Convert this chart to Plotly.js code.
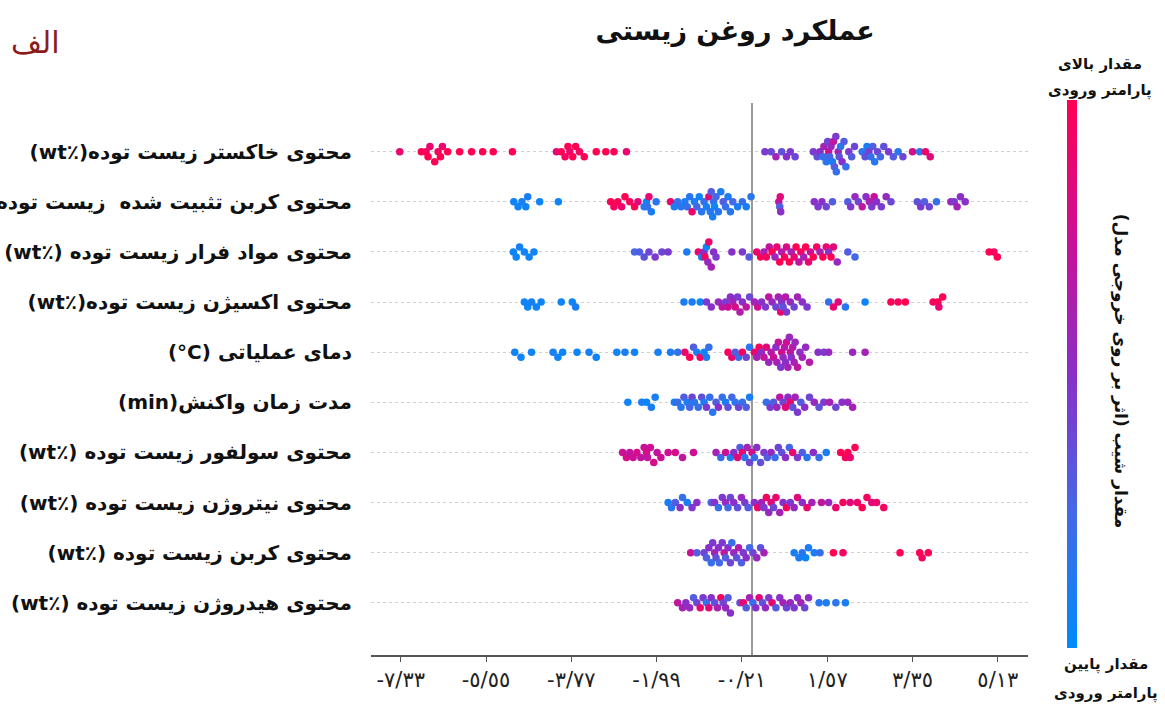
<!DOCTYPE html>
<html>
<head>
<meta charset="utf-8">
<script src="https://cdn.plot.ly/plotly-3.0.1.min.js"></script>
<style>html,body{margin:0;padding:0;background:#fff;}#chart{width:1165px;height:704px;}</style>
</head>
<body>
<div id="chart"></div>
<script>
// Feature labels (top to bottom)
const featureLabels = [
  "محتوی خاکستر زیست توده(٪wt)",
  "محتوی کربن تثبیت شده  زیست توده(٪wt)",
  "محتوی مواد فرار زیست توده (٪wt)",
  "محتوی اکسیژن زیست توده(٪wt)",
  "دمای عملیاتی (C°)",
  "مدت زمان واکنش(min)",
  "محتوی سولفور زیست توده (٪wt)",
  "محتوی نیتروژن زیست توده (٪wt)",
  "محتوی کربن زیست توده (٪wt)",
  "محتوی هیدروژن زیست توده (٪wt)"
];

// X tick values and their Persian labels
const tickValues = [-7.33, -5.55, -3.77, -1.99, -0.21, 1.57, 3.35, 5.13];
const tickLabels = ["-٧/٣٣", "-٥/٥٥", "-٣/٧٧", "-١/٩٩", "-٠/٢١", "١/٥٧", "٣/٣٥", "٥/١٣"];

// SHAP values (x) and normalized feature values (colour, 0 = low, 1 = high) per feature
const ash_shap = [-7.35,-6.9,-6.8,-6.76,-6.72,-6.62,-6.55,-6.5,-6.46,-6.35,-6.1,-5.85,-5.62,-5.4,-5.0,-4.08,-3.98,-3.9,-3.84,-3.8,-3.74,-3.68,-3.6,-3.5,-3.25,-3.05,-2.88,-2.62,
  0.27,0.4,0.5,0.62,0.72,0.8,0.9,1.28,1.36,1.42,1.48,1.5,1.55,1.58,1.6,1.62,1.65,1.68,1.7,1.72,1.75,1.76,1.8,1.82,1.85,1.88,1.92,1.96,2.02,2.08,2.14,2.3,2.36,2.4,2.44,2.48,2.52,2.56,2.62,2.68,2.75,2.85,2.95,3.05,3.15,3.35,3.5,3.62,3.72];
const ash_val = [0.9,1,0.95,1,0.9,1,0.95,1,0.9,1,1,1,1,1,1,0.85,1,0.95,1,0.9,1,1,0.95,1,1,1,1,0.9,
  0.45,0.4,0.6,0.35,0.5,0.45,0.4,0.45,0.35,0.5,0.2,0.6,0.15,0.4,0.75,0.25,0.55,0.1,0.7,0.3,0.45,0.2,0.6,0.35,0.15,0.5,0.3,0.2,0.45,0.3,0.4,0.15,0.35,0.1,0.45,0.2,0.3,0.15,0.4,0.25,0.35,0.45,0.3,0.15,0.4,0.8,0.15,0.9,0.85];

const fixc_shap = [-4.97,-4.88,-4.8,-4.72,-4.68,-4.43,-4.04,
  -2.95,-2.88,-2.8,-2.72,-2.65,-2.55,-2.45,-2.38,
  -2.25,-2.2,-2.18,-2.15,-2.1,-2.0,
  -1.7,-1.62,-1.55,-1.48,
  -1.4,-1.35,-1.3,-1.25,-1.2,-1.15,-1.1,-1.05,-1.0,-0.95,-0.9,-0.87,-0.85,-0.82,-0.8,-0.78,-0.75,-0.7,-0.65,-0.6,-0.55,-0.5,-0.45,-0.4,-0.3,-0.2,-0.12,-0.02,
  0.56,0.58,0.6,0.59,
  1.3,1.38,1.46,1.55,1.68,
  2.0,2.06,2.15,2.22,2.3,2.38,2.45,2.5,2.55,2.6,2.7,2.8,2.9,
  3.45,3.52,3.6,3.7,3.85,
  4.15,4.22,4.28,4.35,4.45];
const fixc_val = [0.05,0.05,0.08,0.05,0.1,0.05,0.05,
  1,0.95,1,0.9,1,0.95,1,0.85,
  0.1,0.05,0.2,0.9,0.1,0.15,
  0.9,0.1,0.2,0.15,
  0.1,0.2,0.15,0.9,0.1,0.25,0.05,0.15,0.2,0.1,0.85,0.15,0.3,0.1,0.2,0.05,0.25,0.15,0.1,0.3,0.2,0.1,0.15,0.25,0.1,0.2,0.1,0.15,
  0.7,0.3,0.5,0.85,
  0.5,0.45,0.5,0.4,0.3,
  0.3,0.45,0.55,0.4,0.7,0.5,0.6,0.45,0.75,0.5,0.45,0.55,0.4,
  0.35,0.45,0.3,0.4,0.2,
  0.55,0.45,0.6,0.5,0.5];

const vol_shap = [-4.98,-4.92,-4.85,-4.75,-4.65,-4.55,
  -2.45,-2.35,-2.25,-2.15,-2.02,-1.88,-1.75,
  -1.36,
  -1.12,-1.05,-1.0,-0.98,-0.95,-0.92,-0.9,-0.85,-0.8,-0.75,
  -0.42,-0.2,-0.06,
  0.1,0.18,0.25,0.3,0.36,0.42,0.48,0.52,0.58,0.62,0.68,0.72,0.78,0.82,0.88,0.92,0.98,1.02,1.08,1.12,1.18,1.22,1.28,1.35,1.42,1.48,1.55,1.6,1.65,1.7,1.78,
  2.0,2.15,
  4.95,5.05,5.12];
const vol_val = [0.05,0.05,0.08,0.05,0.05,0.05,
  0.25,0.3,0.35,0.4,0.45,0.4,0.45,
  0.1,
  0.9,0.1,0.5,0.95,0.05,0.55,0.9,0.6,0.5,0.45,
  0.5,0.45,0.3,
  0.9,1,0.6,0.95,0.7,1,0.55,0.9,1,0.65,0.95,0.8,1,0.6,0.9,1,0.7,0.95,0.6,1,0.9,0.75,1,0.95,0.6,1,0.9,0.5,1,0.85,0.55,
  0.3,0.25,
  1,0.95,1];

const oxy_shap = [-4.75,-4.68,-4.6,-4.5,-4.4,
  -3.98,-3.75,-3.68,
  -1.42,-1.25,-1.08,-0.95,-0.85,
  -0.7,-0.62,-0.55,-0.5,-0.45,-0.4,-0.35,-0.3,-0.25,-0.2,-0.12,-0.05,0.05,0.12,0.2,0.28,0.35,0.42,0.5,0.55,0.6,0.62,0.65,0.7,0.72,0.8,0.88,0.95,1.05,1.15,
  1.6,1.7,1.8,1.95,
  2.36,
  2.9,3.05,3.2,
  3.78,3.88,3.9,3.98];
const oxy_val = [0.05,0.05,0.08,0.05,0.05,
  0.05,0.05,0.1,
  0.1,0.1,0.05,0.45,0.5,
  0.55,0.7,0.45,0.75,0.5,0.6,0.8,0.45,0.65,0.5,0.7,0.4,0.6,0.75,0.5,0.45,0.7,0.55,0.4,0.6,0.9,0.5,0.35,0.65,0.45,0.55,0.4,0.6,0.5,0.45,
  0.2,0.9,0.85,0.15,
  0.05,
  1,0.95,1,
  0.95,1,0.9,1];

const temp_shap = [-4.95,-4.82,-4.6,-4.15,-4.05,-3.95,-3.65,-3.4,-3.25,-2.82,-2.65,-2.45,-1.96,
  -1.7,-1.55,-1.4,-1.3,-1.22,-1.15,-1.08,-1.0,-0.95,-0.9,
  -0.5,-0.42,-0.35,-0.28,-0.2,-0.12,-0.05,
  0.05,0.1,0.15,0.2,0.25,0.3,0.35,0.4,0.45,0.5,0.52,0.55,0.6,0.62,0.65,0.68,0.7,0.72,0.75,0.78,0.8,0.82,0.85,0.88,0.9,0.95,1.0,1.05,1.12,1.2,
  1.38,1.5,1.6,2.1,2.36];
const temp_val = [0.05,0.05,0.05,0.08,0.05,0.05,0.05,0.08,0.05,0.05,0.1,0.05,0.08,
  0.1,0.2,0.9,1,0.3,0.1,0.95,0.05,0.1,0.2,
  0.95,0.9,0.3,0.2,0.95,0.4,0.15,
  0.9,0.6,0.95,0.5,0.7,0.85,0.55,0.65,0.75,0.5,0.6,0.7,0.45,0.8,0.55,0.65,0.5,0.75,0.6,0.55,0.7,0.5,0.65,0.6,0.55,0.7,0.5,0.6,0.55,0.65,
  0.5,0.45,0.55,0.55,0.6];

const time_shap = [-2.59,-2.3,-2.2,-2.1,-2.02,
  -1.62,-1.55,-1.48,-1.42,-1.35,-1.3,-1.25,-1.2,-1.12,-1.05,-1.0,-0.95,-0.88,-0.82,-0.75,-0.7,-0.62,-0.55,-0.5,-0.42,-0.35,-0.28,-0.2,-0.12,-0.05,
  0.3,0.38,0.45,0.52,0.58,0.65,0.7,0.75,0.8,0.85,0.9,0.95,1.02,1.1,1.2,1.3,1.4,1.5,1.62,1.75,1.88,2.0,2.1];
const time_val = [0.05,0.1,0.05,0.1,0.08,
  0.1,0.2,0.15,0.3,0.1,0.25,0.4,0.15,0.2,0.35,0.1,0.45,0.2,0.15,0.3,0.5,0.2,0.1,0.35,0.25,0.15,0.4,0.2,0.3,0.1,
  0.2,0.45,0.3,0.55,0.7,0.4,0.85,0.5,0.9,0.35,0.6,0.45,0.3,0.5,0.4,0.55,0.35,0.45,0.6,0.4,0.5,0.55,0.6];

const sulf_shap = [-2.7,-2.62,-2.55,-2.48,-2.4,-2.32,-2.25,-2.2,-2.18,-2.12,-2.05,-1.98,-1.9,-1.75,-1.6,-1.45,-1.22,
  -0.75,-0.65,-0.55,-0.45,-0.38,-0.3,-0.25,-0.2,-0.15,-0.1,-0.05,0.0,0.05,0.1,0.18,0.25,0.32,0.4,0.48,0.55,0.62,0.7,0.78,0.85,0.95,1.05,1.15,1.28,1.4,1.55,
  1.85,1.95,2.0,2.05,2.15];
const sulf_val = [0.75,0.8,0.7,0.75,0.8,0.7,0.75,0.8,0.7,0.75,0.8,0.7,0.75,0.75,0.8,0.7,0.75,
  0.6,0.2,0.75,0.1,0.5,0.85,0.3,0.9,0.15,0.6,0.4,0.8,0.2,0.5,0.35,0.45,0.3,0.55,0.2,0.4,0.35,0.5,0.25,0.9,0.45,0.3,0.15,0.5,0.2,0.1,
  1,0.95,1,0.9,1];

const nitr_shap = [-1.75,-1.68,-1.6,-1.5,-1.45,-1.35,-1.25,-1.15,
  -0.85,-0.78,-0.7,-0.62,-0.55,-0.5,-0.45,-0.38,-0.3,-0.22,-0.15,-0.08,
  0.05,0.12,0.2,0.25,0.3,0.35,0.4,0.45,0.5,0.58,0.65,0.72,0.8,0.88,0.95,1.05,1.15,1.25,
  1.45,1.6,1.75,1.9,2.05,2.2,2.3,2.4,2.5,2.6,2.75];
const nitr_val = [0.1,0.15,0.3,0.5,0.2,0.1,0.45,0.5,
  0.3,0.5,0.2,0.45,0.55,0.25,0.4,0.5,0.35,0.55,0.45,0.3,
  0.5,0.9,0.6,0.45,0.95,0.55,0.85,0.4,0.9,0.6,0.5,0.95,0.45,0.55,0.85,0.5,0.9,0.6,
  0.7,0.55,0.9,0.95,0.85,0.9,1,0.95,0.85,0.9,0.95];

const carb_shap = [-1.28,-1.15,
  -1.0,-0.95,-0.9,-0.85,-0.82,-0.78,-0.75,-0.7,-0.68,-0.62,-0.58,-0.55,-0.5,-0.45,-0.42,-0.38,-0.32,-0.28,-0.22,-0.18,-0.12,-0.05,0.02,0.1,0.18,0.25,
  0.88,0.98,1.05,1.12,1.18,1.3,1.42,
  1.7,1.9,
  3.09,3.5,3.55,3.68];
const carb_val = [0.75,0.3,
  0.4,0.3,0.5,0.2,0.45,0.6,0.35,0.5,0.25,0.45,0.7,0.3,0.5,0.4,0.2,0.55,0.35,0.65,0.3,0.45,0.5,0.25,0.4,0.55,0.35,0.6,
  0.1,0.1,0.15,0.05,0.1,0.1,0.2,
  1,0.95,
  1,1,0.95,1];

const hyd_shap = [-1.55,-1.45,-1.38,-1.3,-1.22,-1.15,-1.08,-1.02,-0.95,-0.9,-0.85,-0.78,-0.72,-0.65,-0.6,-0.55,-0.5,-0.45,
  -0.25,-0.18,-0.12,-0.05,0.02,0.08,0.15,0.22,0.28,0.35,0.42,0.5,0.58,0.65,0.72,0.8,0.88,0.95,1.02,1.1,1.18,
  1.4,1.55,1.75,1.95];
const hyd_val = [0.7,0.6,0.5,0.55,0.3,0.4,0.9,0.45,0.2,0.85,0.5,0.35,0.6,0.95,0.4,0.55,0.3,0.5,
  0.4,0.9,0.3,0.6,0.2,0.5,0.85,0.35,0.55,0.45,0.9,0.3,0.5,0.6,0.4,0.55,0.45,0.5,0.6,0.4,0.5,
  0.15,0.1,0.15,0.1];

const rowsShap = [ash_shap, fixc_shap, vol_shap, oxy_shap, temp_shap, time_shap, sulf_shap, nitr_shap, carb_shap, hyd_shap];
const rowsVal  = [ash_val, fixc_val, vol_val, oxy_val, temp_val, time_val, sulf_val, nitr_val, carb_val, hyd_val];

// Beeswarm: stack points falling in the same x-bin (SHAP-style layering)
function swarmOffsets(xs, binW, step) {
  const idx = xs.map((v, i) => i).sort((a, b) => xs[a] - xs[b]);
  const offs = new Array(xs.length).fill(0);
  let lastBin = null, layer = 0;
  for (const i of idx) {
    const b = Math.floor(xs[i] / binW);
    if (b !== lastBin) { layer = 0; lastBin = b; }
    offs[i] = Math.ceil(layer / 2) * ((layer % 2) * 2 - 1) * step;
    layer++;
  }
  return offs;
}

const X = [], Y = [], C = [];
rowsShap.forEach((xs, r) => {
  const vs = rowsVal[r];
  const n = Math.min(xs.length, vs.length);
  const xx = xs.slice(0, n);
  const offs = swarmOffsets(xx, 0.2, 0.1);
  for (let i = 0; i < n; i++) { X.push(xx[i]); Y.push(r + offs[i]); C.push(vs[i]); }
});

const RLE = "\u202B", PDF = "\u202C";
const rtl = s => RLE + s + PDF;
const FONT = "DejaVu Sans, Noto Sans, sans-serif";

const colorscale = [[0, '#008bfb'], [0.25, '#4468e6'], [0.5, '#8a2fc8'], [0.75, '#cc0f95'], [1, '#ff0052']];

const trace = {
  type: 'scatter', mode: 'markers', x: X, y: Y, hoverinfo: 'skip',
  marker: {
    size: 7.5, color: C, colorscale: colorscale, cmin: 0, cmax: 1,
    line: {width: 0}, showscale: true,
    colorbar: {
      x: 1.059, xanchor: 'left', xpad: 0, y: 1.005, yanchor: 'top', ypad: 0,
      thickness: 10, thicknessmode: 'pixels', len: 548, lenmode: 'pixels',
      outlinewidth: 0, showticklabels: false, ticks: ''
    }
  },
  showlegend: false
};

const ann = (text, x, y, size, extra) => Object.assign({
  text: text, xref: 'paper', yref: 'paper', x: x, y: y, xanchor: 'center', yanchor: 'middle',
  showarrow: false, font: {family: FONT, size: size, color: '#111', weight: 'bold'}
}, extra || {});

const layout = {
  width: 1165, height: 704,
  margin: {l: 371, r: 137, t: 103, b: 49},
  paper_bgcolor: '#fff', plot_bgcolor: '#fff',
  title: {text: rtl('عملکرد روغن زیستی'), x: 0.631, xref: 'container', y: 0.957, yref: 'container', yanchor: 'middle',
          font: {family: FONT, size: 27, color: '#111', weight: 'bold'}},
  xaxis: {
    range: [-7.95, 5.76], tickvals: tickValues, ticktext: tickLabels,
    showgrid: false, zeroline: true, zerolinecolor: '#999', zerolinewidth: 2,
    showline: true, linecolor: '#555', linewidth: 1.5, ticks: 'outside', ticklen: 5, tickcolor: '#555',
    tickfont: {family: FONT, size: 21, color: '#222'}, fixedrange: true
  },
  yaxis: {
    range: [10.04, -0.97], tickvals: featureLabels.map((_, i) => i), ticktext: featureLabels.map(rtl),
    showgrid: true, gridcolor: '#d0d0d0', griddash: 'dot', gridwidth: 1,
    zeroline: false, showline: false, ticks: '', ticklabelstandoff: 18,
    tickfont: {family: FONT, size: 20, color: '#111', weight: 'bold'}, fixedrange: true
  },
  annotations: [
    ann('الف', -0.511, 1.11, 30, {font: {family: FONT, size: 30, color: '#8b1c1c'}}),
    ann(rtl('مقدار بالای'), 1.11, 1.07, 15),
    ann(rtl('پارامتر ورودی'), 1.11, 1.023, 15),
    ann(rtl('مقدار پایین'), 1.118, -0.018, 15),
    ann(rtl('پارامتر ورودی'), 1.118, -0.069, 15),
    ann(rtl('مقدار شیب (اثر بر روی خروجی مدل)'), 1.14, 0.513, 17, {textangle: 90})
  ]
};

Plotly.newPlot('chart', [trace], layout, {displayModeBar: false, staticPlot: true});
</script>
</body>
</html>
